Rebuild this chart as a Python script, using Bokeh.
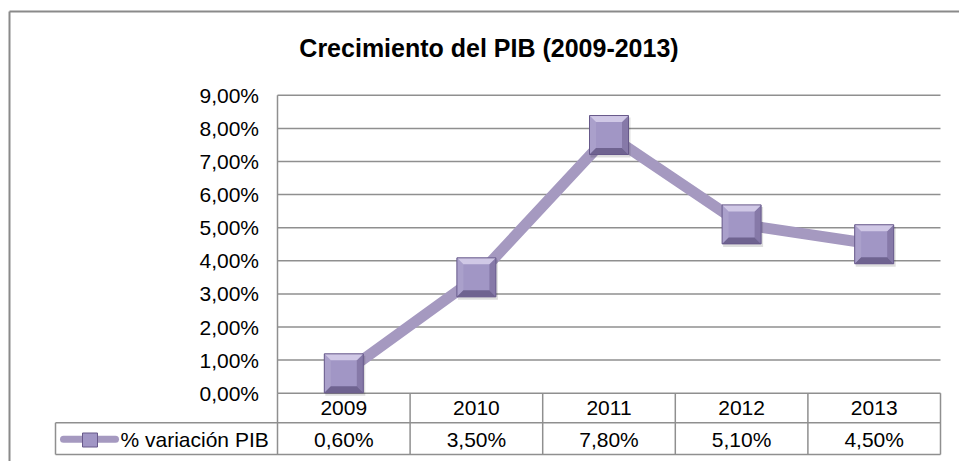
from bokeh.plotting import figure
from bokeh.models import Range1d
from bokeh.core.properties import value
from bokeh.embed import file_html
from bokeh.resources import INLINE

# ---- data ----
years = ["2009", "2010", "2011", "2012", "2013"]
values = [0.60, 3.50, 7.80, 5.10, 4.50]
y_ticks = [0, 1, 2, 3, 4, 5, 6, 7, 8, 9]
title_text = "Crecimiento del PIB (2009-2013)"
series_name = "% variación PIB"


def pct(v):
    return f"{v:.2f}".replace(".", ",") + "%"


# ---- layout (page pixels) ----
W, H = 959, 461
X0, CW = 277.0, 132.6      # left of plot area, width of one category column
Y0, YU = 392.7, 33.1       # pixel row of 0 %, pixels per 1 %


def xd(px):
    return (px - X0) / CW


def yd(py):
    return (Y0 - py) / YU


FONT = value("Liberation Sans")
FS = "21px"
GRID = "#8f8f8f"
LINE = "#a599c0"
FACE = "#a196c5"
TOPB = "#d0c8e6"
LEFTB = "#aaa0cb"
RIGHTB = "#8679a8"
BOTB = "#6f6390"
OUTL = "#67598a"

p = figure(width=W, height=H, x_range=Range1d(xd(0), xd(W)), y_range=Range1d(yd(H), yd(0)),
           output_backend="svg", toolbar_location=None,
           x_axis_location=None, y_axis_location=None,
           min_border_left=0, min_border_right=0, min_border_top=0, min_border_bottom=0)
p.outline_line_color = None
p.background_fill_color = "white"
p.border_fill_color = "white"
p.grid.visible = False

n = len(years)
cx = [i + 0.5 for i in range(n)]

# outer chart border (left and top visible)
p.segment(x0=[xd(9), xd(9)], y0=[yd(11), yd(11)], x1=[xd(9), xd(W + 20)], y1=[yd(H + 20), yd(11)],
          line_color="#8a8a8a", line_width=2)

# title
p.text(x=[xd(488.5)], y=[yd(47.2)], text=[title_text], text_align="center",
       text_baseline="middle", text_font=FONT, text_font_size="25px",
       text_font_style="bold", text_color="black")

# horizontal gridlines and value axis
p.segment(x0=[0] * len(y_ticks), x1=[n] * len(y_ticks), y0=y_ticks, y1=y_ticks,
          line_color=GRID, line_width=1.5)
p.segment(x0=[0], x1=[0], y0=[y_ticks[0]], y1=[y_ticks[-1]], line_color=GRID, line_width=1.5)
p.text(x=[xd(258.5)] * len(y_ticks), y=y_ticks, text=[pct(t) for t in y_ticks],
       text_align="right", text_baseline="middle", text_font=FONT,
       text_font_size=FS, text_color="black")

# ---- data table ----
row_mid = yd(422.3)
row_bot = yd(454)
left_cell = xd(55)
p.segment(x0=list(range(n + 1)), x1=list(range(n + 1)), y0=[0] * (n + 1), y1=[row_bot] * (n + 1),
          line_color=GRID, line_width=1.5)
p.segment(x0=[left_cell, left_cell, left_cell], x1=[n, n, left_cell],
          y0=[row_mid, row_bot, row_mid], y1=[row_mid, row_bot, row_bot],
          line_color=GRID, line_width=1.5)
p.text(x=cx, y=[yd(407.8)] * n, text=years, text_align="center", text_baseline="middle",
       text_font=FONT, text_font_size=FS, text_color="black")
p.text(x=cx, y=[yd(439.3)] * n, text=[pct(v) for v in values], text_align="center",
       text_baseline="middle", text_font=FONT, text_font_size=FS, text_color="black")

# legend key inside table
p.segment(x0=[xd(63)], x1=[xd(115)], y0=[yd(438.7)], y1=[yd(438.7)], line_color=LINE,
          line_width=7, line_cap="round")
p.rect(x=[xd(89.5)], y=[yd(439.5)], width=15, height=14, width_units="screen",
       height_units="screen", fill_color=FACE, line_color=OUTL, line_width=1)
p.text(x=[xd(120)], y=[yd(439.3)], text=[series_name], text_align="left",
       text_baseline="middle", text_font=FONT, text_font_size=FS, text_color="black")

# ---- series line ----
p.line(x=cx, y=values, line_color=LINE, line_width=11, line_join="round")

# bevelled square markers
pxx = 1.0 / CW
pxy = 1.0 / YU
hs, b = 19.5, 6.5
hx, hy, bx, by = hs * pxx, hs * pxy, b * pxx, b * pxy

p.rect(x=[c + 1.5 * pxx for c in cx], y=[v - 2.5 * pxy for v in values],
       width=40, height=40, width_units="screen", height_units="screen",
       fill_color="black", fill_alpha=0.13, line_color=None)
p.rect(x=cx, y=values, width=2 * hs, height=2 * hs, width_units="screen",
       height_units="screen", fill_color=FACE, line_color=None)

top = ([[c - hx, c + hx, c + hx - bx, c - hx + bx] for c in cx],
       [[v + hy, v + hy, v + hy - by, v + hy - by] for v in values])
bot = ([[c - hx, c + hx, c + hx - bx, c - hx + bx] for c in cx],
       [[v - hy, v - hy, v - hy + by, v - hy + by] for v in values])
lef = ([[c - hx, c - hx + bx, c - hx + bx, c - hx] for c in cx],
       [[v + hy, v + hy - by, v - hy + by, v - hy] for v in values])
rig = ([[c + hx, c + hx - bx, c + hx - bx, c + hx] for c in cx],
       [[v + hy, v + hy - by, v - hy + by, v - hy] for v in values])
for (xs, ys), col in [(lef, LEFTB), (rig, RIGHTB), (top, TOPB), (bot, BOTB)]:
    p.patches(xs=xs, ys=ys, fill_color=col, line_color=None)
p.rect(x=cx, y=values, width=2 * hs, height=2 * hs, width_units="screen",
       height_units="screen", fill_color=None, line_color=OUTL, line_width=1)

open("out.html", "w").write(file_html(p, INLINE))
